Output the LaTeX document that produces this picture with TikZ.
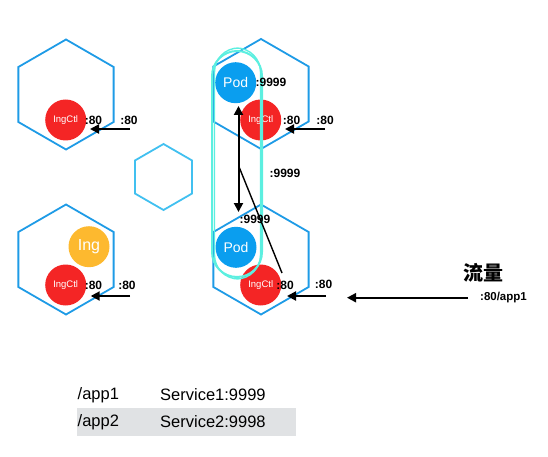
\documentclass[tikz,border=0pt]{standalone}
\usepackage{fontspec}
\setmainfont{Liberation Sans}
\newfontfamily\cjk{Noto Sans CJK SC}
\usetikzlibrary{shapes.geometric,arrows.meta}
\definecolor{hexblue}{HTML}{1E9BE6}
\definecolor{hexlight}{HTML}{41C0F0}
\definecolor{ctlred}{HTML}{F42525}
\definecolor{podblue}{HTML}{0A9EEF}
\definecolor{ingorange}{HTML}{FDB92F}
\definecolor{cyanline}{HTML}{5CEFE0}
\definecolor{rowgray}{HTML}{E0E2E4}
\tikzset{
  hexbox/.style={regular polygon, regular polygon sides=6, shape border rotate=30,
    draw=hexblue, line width=1.8pt, minimum size=110pt, inner sep=0pt},
  smallhex/.style={hexbox, draw=hexlight, minimum size=66pt},
  ctl/.style={circle, fill=ctlred, minimum size=41pt, inner sep=0pt, text=white,
    font=\fontsize{9.5}{10}\selectfont},
  pod/.style={circle, fill=podblue, minimum size=41pt, inner sep=0pt, text=white,
    font=\fontsize{14}{15}\selectfont},
  ing/.style={circle, fill=ingorange, minimum size=41pt, inner sep=0pt, text=white,
    font=\fontsize{16}{17}\selectfont},
  port/.style={inner sep=0pt, font=\bfseries\fontsize{12}{13}\selectfont},
  arr/.style={line width=2pt, -{Triangle[length=9pt,width=9pt]}},
  tbl/.style={inner sep=0pt, anchor=west, font=\fontsize{16.5}{17}\selectfont},
}
\begin{document}
\begin{tikzpicture}[x=1pt,y=-1pt]
\useasboundingbox (0,0) rectangle (548,457);
% hexagons
\node[hexbox] (h1) at (66,94.5) {};
\node[hexbox] (h2) at (261,94) {};
\node[hexbox] (h3) at (261,259.5) {};
\node[hexbox] (h4) at (66,259.5) {};
\node[smallhex] (h5) at (163.5,177) {};
% circles
\node[ctl] (c1) at (65.7,120) {IngCtl};
\node[ctl] (c2) at (260.7,120) {IngCtl};
\node[ctl] (c3) at (260.7,285) {IngCtl};
\node[ctl] (c4) at (65.7,285) {IngCtl};
\node[pod] (p1) at (235.7,82.7) {Pod};
\node[pod] (p2) at (236,247.3) {Pod};
\node[ing] (g1) at (89,246.7) {Ing};
% cyan loop
\draw[cyanline, line width=2pt, rounded corners=25pt] (212,51) rectangle (262,277);
\draw[cyanline, line width=1.4pt, rounded corners=24pt] (214.5,48) rectangle (260.5,279);
% port labels
\node[port] (l1a) at (93.5,120) {:80};
\node[port] (l1b) at (129,120) {:80};
\node[port] (l2a) at (291.5,120) {:80};
\node[port] (l2b) at (325,120) {:80};
\node[port] (l3a) at (285,285) {:80};
\node[port] (l3b) at (323.5,284) {:80};
\node[port] (l4a) at (93.5,285) {:80};
\node[port] (l4b) at (127,285) {:80};
\node[port] (q1) at (271,82.7) {:9999};
\node[port] (q2) at (285,173) {:9999};
\node[port] (q3) at (255,219) {:9999};
% arrows
\coordinate (a1s) at (130,129); \coordinate (a1e) at (90,129);
\coordinate (a2s) at (325,129); \coordinate (a2e) at (285,129);
\coordinate (a3s) at (326,296); \coordinate (a3e) at (287,296);
\coordinate (a4s) at (130,296); \coordinate (a4e) at (90.7,296);
\coordinate (ts) at (468,297.7); \coordinate (te) at (347,297.7);
\draw[arr] (a1s) -- (a1e);
\draw[arr] (a2s) -- (a2e);
\draw[arr] (a3s) -- (a3e);
\draw[arr] (a4s) -- (a4e);
\draw[arr] (ts) -- (te);
\coordinate (vt) at (238.5,106); \coordinate (vb) at (238.5,212);
\draw[line width=2pt, {Triangle[length=9pt,width=9pt]}-{Triangle[length=9pt,width=9pt]}] (vt) -- (vb);
\coordinate (ds) at (239.5,168); \coordinate (de) at (282,273);
\draw[line width=1.4pt] (ds) -- (de);
% traffic
\node[inner sep=0pt, font=\cjk\bfseries\fontsize{20}{22}\selectfont] (flow) at (483,273) {流量};
\node[port, font=\bfseries\fontsize{11.5}{12}\selectfont] (fl) at (503.5,298) {:80/app1};
% table
\fill[rowgray] (76.7,407.7) rectangle (296,436);
\node[tbl] (r1a) at (77.5,395) {/app1};
\node[tbl] (r1b) at (160,395) {Service1:9999};
\node[tbl] (r2a) at (77.5,422) {/app2};
\node[tbl] (r2b) at (160,422) {Service2:9998};
\end{tikzpicture}
\end{document}
